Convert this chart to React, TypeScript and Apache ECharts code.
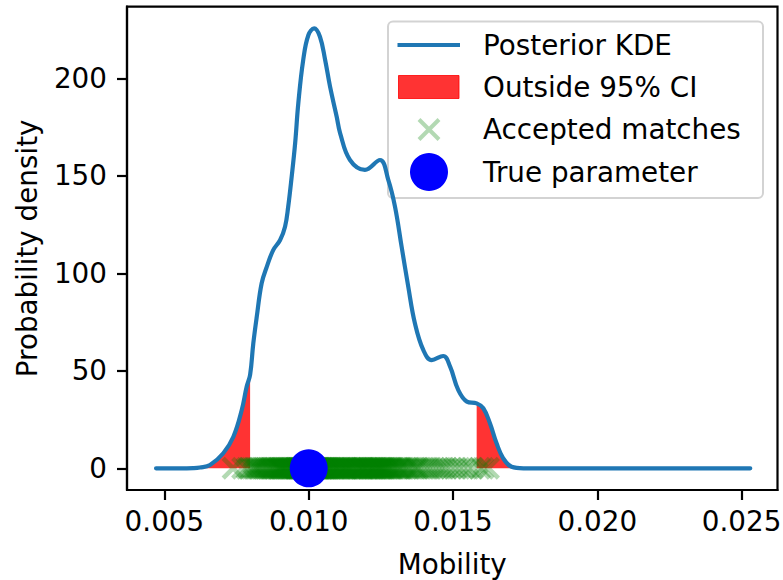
import React, { useEffect, useRef } from "react";
import * as echarts from "echarts";

// KDE curve (Mobility -> density)
const kdeX = [
  0.00471, 0.0055, 0.006, 0.00623, 0.00658, 0.00704, 0.00739, 0.00768, 0.00785, 0.00797,
  0.00808, 0.0082, 0.00837, 0.00855, 0.00877, 0.00901, 0.00918, 0.00929, 0.00941, 0.00953,
  0.00964, 0.00981, 0.00999, 0.01019, 0.01039, 0.01057, 0.01074, 0.01097, 0.01109, 0.01143,
  0.01195, 0.01247, 0.01276, 0.01299, 0.01322, 0.01345, 0.01368, 0.01397, 0.01426, 0.01466,
  0.0149, 0.01518, 0.01548, 0.01582, 0.01605, 0.01628, 0.01651, 0.01674, 0.01703, 0.01744,
  0.0185, 0.0253,
];
const kdeY = [
  0, 0, 0.1, 0.4, 1.7, 7.7, 16.2, 29.9, 41.8, 48,
  64, 77.7, 94.9, 103.4, 111.9, 117.1, 123.9, 134.2, 149.5, 166.7,
  187.2, 209.4, 222.2, 225.6, 221.3, 209.4, 195.7, 180.3, 171.8, 158.1,
  153, 158.1, 147.8, 134.2, 113.6, 93.1, 74.4, 60.7, 55.5, 57.6,
  52.1, 40.2, 34.2, 33.3, 30.8, 23.1, 12.8, 5.1, 0.8, 0,
  0, 0,
];

// 95% credible interval bounds
const ciLow = 0.00797;
const ciHigh = 0.01582;

// accepted ABC matches (mobility values)
const accepted = [
  0.00738, 0.00771, 0.00786, 0.00794,
  0.00802, 0.00809, 0.00813, 0.00817, 0.00822, 0.00826, 0.00831, 0.00836, 0.00839, 0.00844,
  0.00849, 0.00853, 0.00858, 0.00861, 0.00866, 0.00869, 0.00873, 0.00877, 0.00881, 0.00883,
  0.00888, 0.00892, 0.00895, 0.00897,
  0.00901, 0.00903, 0.00905, 0.00907, 0.00910, 0.00912, 0.00915, 0.00918, 0.00921, 0.00923,
  0.00926, 0.00929, 0.00931, 0.00934, 0.00936, 0.00939, 0.00941, 0.00944, 0.00946, 0.00949,
  0.00952, 0.00954, 0.00955, 0.00957, 0.00960, 0.00962, 0.00964, 0.00966, 0.00969, 0.00971,
  0.00972, 0.00975, 0.00977, 0.00979, 0.00981, 0.00984, 0.00986, 0.00987, 0.00989, 0.00991,
  0.00993, 0.00996, 0.00998, 0.00999,
  0.01002, 0.01003, 0.01004, 0.01007, 0.01008, 0.01009, 0.01012, 0.01013, 0.01014, 0.01017,
  0.01018, 0.01019, 0.01022, 0.01023, 0.01025, 0.01027, 0.01028, 0.01031, 0.01032, 0.01035,
  0.01036, 0.01038, 0.01039, 0.01041, 0.01043, 0.01046, 0.01047, 0.01048, 0.01051, 0.01053,
  0.01056, 0.01058, 0.01059, 0.01061, 0.01064, 0.01066, 0.01068, 0.01071, 0.01073, 0.01077,
  0.01079, 0.01082, 0.01085, 0.01088, 0.01090, 0.01092, 0.01095, 0.01098,
  0.01101, 0.01104, 0.01107, 0.01109, 0.01112, 0.01114, 0.01118, 0.01121, 0.01123, 0.01126,
  0.01129, 0.01131, 0.01134, 0.01136, 0.01139, 0.01142, 0.01146, 0.01148, 0.01151, 0.01154,
  0.01157, 0.01160, 0.01163, 0.01167, 0.01169, 0.01172, 0.01175, 0.01179, 0.01181, 0.01184,
  0.01187, 0.01188, 0.01191, 0.01194, 0.01197,
  0.01202, 0.01204, 0.01206, 0.01209, 0.01212, 0.01215, 0.01217, 0.01220, 0.01223, 0.01225,
  0.01228, 0.01231, 0.01234, 0.01236, 0.01239, 0.01242, 0.01245, 0.01247, 0.01250, 0.01252,
  0.01256, 0.01258, 0.01261, 0.01264, 0.01267, 0.01271, 0.01274, 0.01277, 0.01281, 0.01284,
  0.01287, 0.01291, 0.01294, 0.01299,
  0.01305, 0.01309, 0.01312, 0.01316, 0.01321, 0.01325, 0.01332, 0.01338, 0.01343, 0.01347,
  0.01353, 0.01362, 0.01368, 0.01374, 0.01378, 0.01385, 0.01396,
  0.01406, 0.01415, 0.01425, 0.01436, 0.01447, 0.01457, 0.01468, 0.01478, 0.01493,
  0.01507, 0.01522, 0.01536, 0.01553, 0.01568,
  0.01592, 0.01604, 0.01623,
];

const trueParam = 0.01;

const xTicks = [0.005, 0.01, 0.015, 0.02, 0.025];
const yTicks = [0, 50, 100, 150, 200];

const legendLabels = ["Posterior KDE", "Outside 95% CI", "Accepted matches", "True parameter"];

const FONT = "DejaVu Sans";
const FS = 27.8;
const KDE_BLUE = "#1f77b4";
const FILL_RED = "rgba(255,0,0,0.8)";

const X_PATH =
  "path://M0,14L14,0L50,36L86,0L100,14L64,50L100,86L86,100L50,64L14,100L0,86L36,50Z";

export default function App() {
  const ref = useRef<HTMLDivElement>(null);

  useEffect(() => {
    if (!ref.current) return;
    const chart = echarts.init(ref.current, null, { renderer: "svg" });

    const kde = kdeX.map((x, i) => [x, kdeY[i]]);
    const leftFill = kde.filter((p) => p[0] <= ciLow);
    const rightFill = kde.filter((p) => p[0] >= ciHigh);
    const scatterData = accepted.map((v) => [v, 0]);

    const lx = 388;
    const rowY = [45, 87, 129.5, 172];
    const textX = 483;
    const handleCX = 429;

    const option: any = {
      animation: false,
      backgroundColor: "#ffffff",
      textStyle: { fontFamily: FONT },
      grid: {
        left: 127,
        top: 6.7,
        width: 650.5,
        height: 483.3,
        show: true,
        borderColor: "#000",
        borderWidth: 2.2,
        backgroundColor: "transparent",
        containLabel: false,
        outerBoundsMode: "none",
      },
      xAxis: {
        type: "value",
        min: 0.003704,
        max: 0.026244,
        name: "Mobility",
        nameLocation: "middle",
        nameGap: 60,
        nameTextStyle: { fontFamily: FONT, fontSize: FS, color: "#000" },
        axisLine: { show: true, onZero: false, lineStyle: { color: "#000", width: 2.2 } },
        axisTick: {
          show: true,
          length: 10,
          lineStyle: { color: "#000", width: 2.2 },
          customValues: xTicks,
        },
        axisLabel: {
          show: true,
          margin: 17,
          color: "#000",
          fontFamily: FONT,
          fontSize: FS,
          customValues: xTicks,
          formatter: (v: number) => v.toFixed(3),
        },
        splitLine: { show: false },
      },
      yAxis: {
        type: "value",
        min: -11.13,
        max: 236.72,
        name: "Probability density",
        nameLocation: "middle",
        nameGap: 86,
        nameTextStyle: { fontFamily: FONT, fontSize: FS, color: "#000" },
        axisLine: { show: true, onZero: false, lineStyle: { color: "#000", width: 2.2 } },
        axisTick: {
          show: true,
          length: 10,
          lineStyle: { color: "#000", width: 2.2 },
          customValues: yTicks,
        },
        axisLabel: {
          show: true,
          margin: 20,
          color: "#000",
          fontFamily: FONT,
          fontSize: FS,
          customValues: yTicks,
          formatter: (v: number) => String(Math.round(v)),
        },
        splitLine: { show: false },
      },
      series: [
        {
          name: "Outside 95% CI (low)",
          type: "line",
          data: leftFill,
          smooth: 0.4,
          showSymbol: false,
          symbol: "none",
          lineStyle: { width: 0.8, color: FILL_RED },
          areaStyle: { color: FILL_RED, origin: 0, opacity: 1 },
          silent: true,
          z: 1,
        },
        {
          name: "Outside 95% CI (high)",
          type: "line",
          data: rightFill,
          smooth: 0.4,
          showSymbol: false,
          symbol: "none",
          lineStyle: { width: 0.8, color: FILL_RED },
          areaStyle: { color: FILL_RED, origin: 0, opacity: 1 },
          silent: true,
          z: 1,
        },
        {
          name: "Posterior KDE",
          type: "line",
          data: kde,
          smooth: 0.4,
          showSymbol: false,
          symbol: "none",
          lineStyle: { width: 4.2, color: KDE_BLUE, cap: "round", join: "round" },
          silent: true,
          z: 2,
        },
        {
          name: "Accepted matches",
          type: "scatter",
          data: scatterData,
          symbol: X_PATH,
          symbolSize: 23,
          itemStyle: { color: "#008000", opacity: 0.3 },
          silent: true,
          z: 3,
        },
        {
          name: "True parameter",
          type: "scatter",
          data: [[trueParam, 0]],
          symbol: "circle",
          symbolSize: 38,
          itemStyle: { color: "#0000ff", opacity: 1 },
          silent: true,
          z: 4,
        },
      ],
      graphic: [
        {
          type: "group",
          z: 100,
          children: [
            {
              type: "rect",
              shape: { x: lx, y: 21.5, width: 375, height: 176.5, r: 5 },
              style: { fill: "rgba(255,255,255,0.8)", stroke: "#d3d3d3", lineWidth: 2 },
            },
            {
              type: "line",
              shape: { x1: 397.5, y1: rowY[0], x2: 460, y2: rowY[0] },
              style: { stroke: KDE_BLUE, lineWidth: 4.2 },
            },
            {
              type: "rect",
              shape: { x: 398.5, y: rowY[1] - 11.5, width: 60.5, height: 23 },
              style: { fill: FILL_RED, stroke: FILL_RED, lineWidth: 1 },
            },
            {
              type: "line",
              shape: { x1: handleCX - 10, y1: rowY[2] - 10, x2: handleCX + 10, y2: rowY[2] + 10 },
              style: { stroke: "#b3d9b3", lineWidth: 4 },
            },
            {
              type: "line",
              shape: { x1: handleCX + 10, y1: rowY[2] - 10, x2: handleCX - 10, y2: rowY[2] + 10 },
              style: { stroke: "#b3d9b3", lineWidth: 4 },
            },
            {
              type: "circle",
              shape: { cx: handleCX, cy: rowY[3], r: 19 },
              style: { fill: "#0000ff" },
            },
            ...legendLabels.map((t, i) => ({
              type: "text",
              x: textX,
              y: rowY[i],
              style: {
                text: t,
                fontFamily: FONT,
                fontSize: FS,
                fill: "#000",
                align: "left",
                verticalAlign: "middle",
              },
            })),
          ],
        },
      ],
    };

    chart.setOption(option);
    return () => chart.dispose();
  }, []);

  return (
    <div
      ref={ref}
      style={{ position: "fixed", left: 0, top: 0, width: 783, height: 580, background: "#fff" }}
    />
  );
}
